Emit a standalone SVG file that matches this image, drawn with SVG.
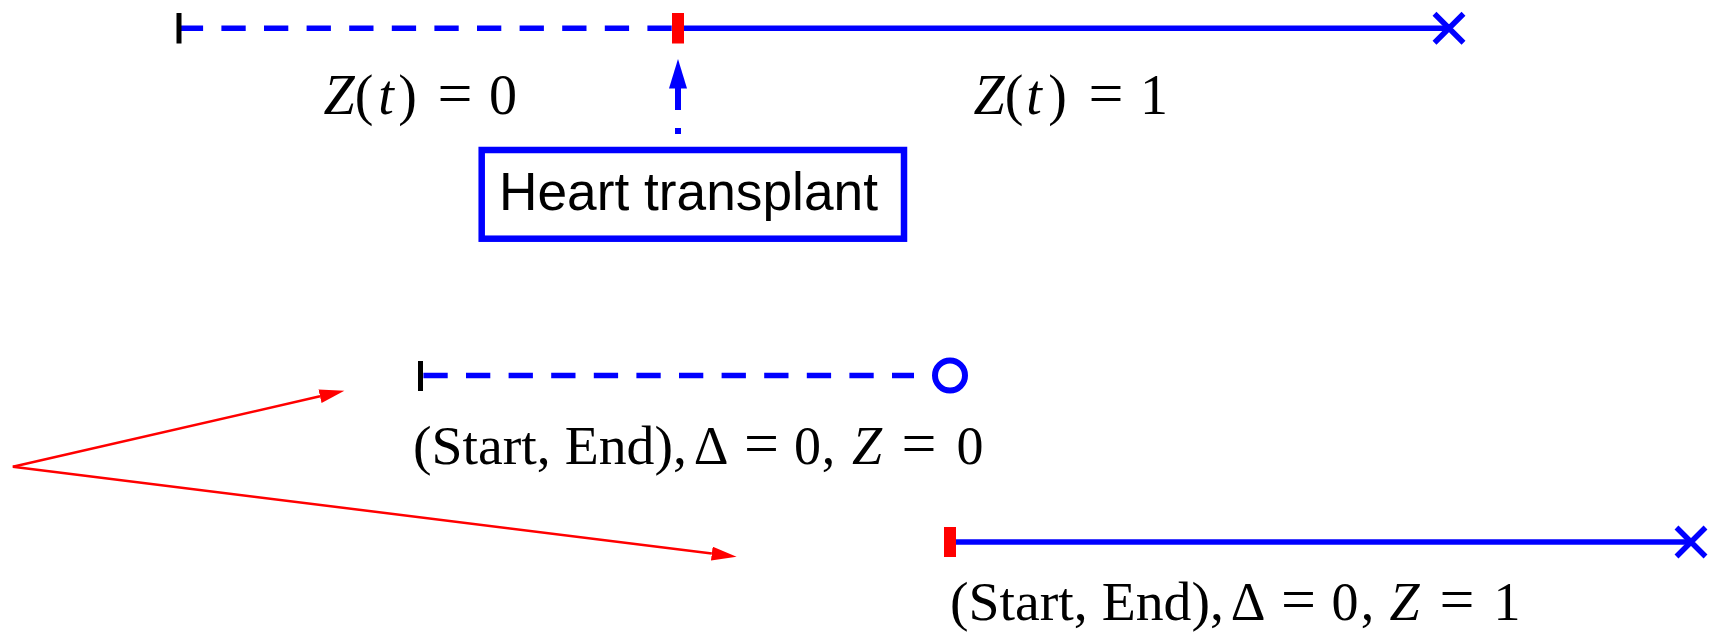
<svg xmlns="http://www.w3.org/2000/svg" width="1716" height="640" viewBox="0 0 1716 640">
<style>
.bl{stroke:#0000ff;stroke-width:5.5;fill:none}
.dash{stroke-dasharray:24.3 18.3}
.xm{stroke:#0000ff;stroke-width:5.5;fill:none}
.tickk{fill:#000}
.tickr{fill:#ff0000}
.math{font-family:"Liberation Serif","Times New Roman",serif;font-size:56px;fill:#000;text-anchor:middle}
.lab{font-family:"Liberation Serif","Times New Roman",serif;font-size:54px;fill:#000;text-anchor:middle}
.it{font-style:italic}
.eq{font-size:62px}
.box{fill:#fff;stroke:#0000ff;stroke-width:6.5}
.sans{font-family:"Liberation Sans",Arial,sans-serif;font-size:53px;fill:#000}
.red{stroke:#ff0000;stroke-width:2.5;fill:none}
</style>
<defs>
<marker id="redhead" markerUnits="userSpaceOnUse" markerWidth="26" markerHeight="16" refX="0" refY="7" orient="auto">
<path d="M0,0 L25,7 L0,14 z" fill="#ff0000"/>
</marker>
</defs>
<rect width="1716" height="640" fill="#fff"/>

<g id="timeline-top">
<line class="bl dash" x1="178.8" y1="28.3" x2="672" y2="28.3"/>
<line class="bl" x1="672" y1="28.3" x2="1449" y2="28.3"/>
<rect class="tickk" x="176.5" y="13" width="5" height="30.5"/>
<rect class="tickr" x="672" y="13" width="12" height="30.5"/>
<path class="xm" d="M1434.5,13.8 L1463.5,42.8 M1434.5,42.8 L1463.5,13.8"/>
</g>

<g id="label-z0">
<text class="math" y="114"><tspan class="it" x="339">Z</tspan><tspan x="364">(</tspan><tspan class="it" x="386">t</tspan><tspan x="407.5">)</tspan><tspan class="eq" x="455">=</tspan><tspan x="503">0</tspan></text>
</g>
<g id="label-z1">
<text class="math" y="114"><tspan class="it" x="989">Z</tspan><tspan x="1014">(</tspan><tspan class="it" x="1034">t</tspan><tspan x="1057.5">)</tspan><tspan class="eq" x="1106">=</tspan><tspan x="1154">1</tspan></text>
</g>

<g id="heart-transplant">
<rect class="box" x="481.7" y="150" width="422.3" height="88.7"/>
<text class="sans" x="499" y="210" textLength="379" lengthAdjust="spacingAndGlyphs">Heart transplant</text>
</g>

<g id="row-censored">
<line class="bl dash" x1="423.4" y1="375.5" x2="914" y2="375.5"/>
<rect class="tickk" x="418" y="361" width="5" height="30"/>
<circle cx="950" cy="375.5" r="15" fill="none" stroke="#0000ff" stroke-width="6"/>
<text class="lab" y="464"><tspan x="550" textLength="274" lengthAdjust="spacingAndGlyphs">(Start, End),</tspan><tspan x="711">Δ</tspan><tspan class="eq" x="761.5">=</tspan><tspan x="807.5">0</tspan><tspan x="828.5">,</tspan><tspan class="it" x="867">Z</tspan><tspan class="eq" x="919">=</tspan><tspan x="970">0</tspan></text>
</g>

<g id="row-event">
<line class="bl" x1="956" y1="542" x2="1691" y2="542"/>
<rect class="tickr" x="944" y="527" width="12" height="30"/>
<path class="xm" d="M1676.5,527.5 L1705.5,556.5 M1676.5,556.5 L1705.5,527.5"/>
<text class="lab" y="620"><tspan x="1087" textLength="274" lengthAdjust="spacingAndGlyphs">(Start, End),</tspan><tspan x="1248">Δ</tspan><tspan class="eq" x="1298.5">=</tspan><tspan x="1345">0</tspan><tspan x="1367.5">,</tspan><tspan class="it" x="1404.5">Z</tspan><tspan class="eq" x="1457">=</tspan><tspan x="1507">1</tspan></text>
</g>

<g id="connectors">
<line x1="678" y1="134" x2="678" y2="88" stroke="#0000ff" stroke-width="6" stroke-dasharray="6 18 22 100"/>
<polygon points="678,59 669,88.5 687,88.5" fill="#0000ff"/>
<line class="red" x1="12.8" y1="466.7" x2="320" y2="396.3" marker-end="url(#redhead)"/>
<line class="red" x1="12.8" y1="466.7" x2="711.8" y2="553.6" marker-end="url(#redhead)"/>
</g>
</svg>
